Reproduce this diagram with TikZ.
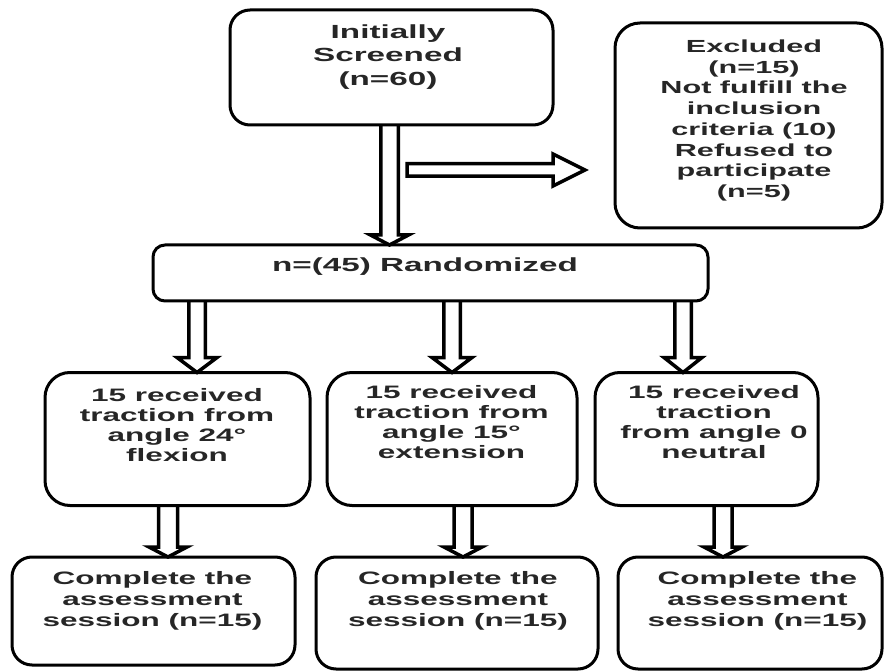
\documentclass[tikz,border=0pt]{standalone}
\usepackage{fontspec}
\setmainfont{Liberation Sans}[FakeStretch=1.75]
\usetikzlibrary{calc}
\pgfdeclarelayer{background}
\pgfsetlayers{background,main}
\tikzset{
  box/.style={draw=black, line width=3pt, outer sep=0pt, inner sep=0pt},
  txt/.style={align=center, inner sep=0pt, text=black!85},
  fbig/.style={font=\bfseries\fontsize{19}{23.5}\selectfont},
  fmid/.style={font=\bfseries\fontsize{18}{20}\selectfont},
  fexc/.style={font=\bfseries\fontsize{17.5}{20.7}\selectfont},
  fbot/.style={font=\bfseries\fontsize{18}{21}\selectfont},
  blockarr/.style={draw=black, line width=3.5pt, fill=white, line join=miter},
}
% #1 x position, #2 source node, #3 target node, #4 half shaft, #5 half head, #6 head length
\newcommand{\myvarrow}[6]{%
  \path[blockarr] let \p1=(#2.south), \p2=(#3.north) in
    (#1pt-#4pt,\y1) -- (#1pt-#4pt,\y2+#6pt) -- (#1pt-#5pt,\y2+#6pt) -- (#1pt,\y2)
    -- (#1pt+#5pt,\y2+#6pt) -- (#1pt+#4pt,\y2+#6pt) -- (#1pt+#4pt,\y1);}
\begin{document}
\begin{tikzpicture}[x=1pt,y=-1pt]
\useasboundingbox (0,0) rectangle (884,671);
% boxes
\node[box, rounded corners=20pt, minimum width=323pt, minimum height=115pt] (A) at (391.5,67.5) {};
\node[box, rounded corners=25pt, minimum width=267pt, minimum height=205pt] (E) at (748.5,125.5) {};
\node[box, rounded corners=12pt, minimum width=555pt, minimum height=56pt] (R) at (430.5,273) {};
\node[box, rounded corners=25pt, minimum width=265pt, minimum height=133pt] (M1) at (177.5,439) {};
\node[box, rounded corners=25pt, minimum width=250pt, minimum height=133pt] (M2) at (452,439) {};
\node[box, rounded corners=25pt, minimum width=223pt, minimum height=133pt] (M3) at (706.5,439) {};
\node[box, rounded corners=20pt, minimum width=283pt, minimum height=108pt] (B1) at (153.5,611) {};
\node[box, rounded corners=20pt, minimum width=282pt, minimum height=112pt] (B2) at (457,613) {};
\node[box, rounded corners=20pt, minimum width=264pt, minimum height=112pt] (B3) at (750,613) {};
% texts
\node[txt, fbig] (At) at (388,57) {Initially\\Screened\\(n=60)};
\node[txt, fexc] (Et) at (754,120.5) {Excluded\\(n=15)\\Not fulfill the\\inclusion\\criteria (10)\\Refused to\\participate\\(n=5)};
\node[txt, fbig] (Rt) at (425,266.5) {n=(45) Randomized};
\node[txt, fmid] (M1t) at (177,425) {15 received\\traction from\\angle 24°\\flexion};
\node[txt, fmid] (M2t) at (451.5,422) {15 received\\traction from\\angle 15°\\extension};
\node[txt, fmid] (M3t) at (714,422) {15 received\\traction\\from angle 0\\neutral};
\node[txt, fbot] (B1t) at (152.5,601) {Complete the\\assessment\\session (n=15)};
\node[txt, fbot] (B2t) at (458,601) {Complete the\\assessment\\session (n=15)};
\node[txt, fbot] (B3t) at (757.5,601) {Complete the\\assessment\\session (n=15)};
% connectors
\coordinate (h1) at (407,170);
\coordinate (h2) at (585,170);
\begin{pgfonlayer}{background}
\myvarrow{389.5}{A}{R}{8.75}{19}{10}
\myvarrow{197}{R}{M1}{8.25}{20}{15}
\myvarrow{452}{R}{M2}{8.25}{20}{15}
\myvarrow{683}{R}{M3}{8.25}{19}{15}
\myvarrow{168}{M1}{B1}{9.5}{19}{10}
\myvarrow{463}{M2}{B2}{9}{19}{10}
\myvarrow{723}{M3}{B3}{9}{19}{10}
\path[blockarr] let \p1=(h1), \p2=(h2) in
  (\x1,\y1+6.25pt) -- (\x2-32pt,\y1+6.25pt) -- (\x2-32pt,\y1+16pt) -- (\x2,\y2)
  -- (\x2-32pt,\y1-16pt) -- (\x2-32pt,\y1-6.25pt) -- (\x1,\y1-6.25pt) -- cycle;
\end{pgfonlayer}
\end{tikzpicture}
\end{document}
